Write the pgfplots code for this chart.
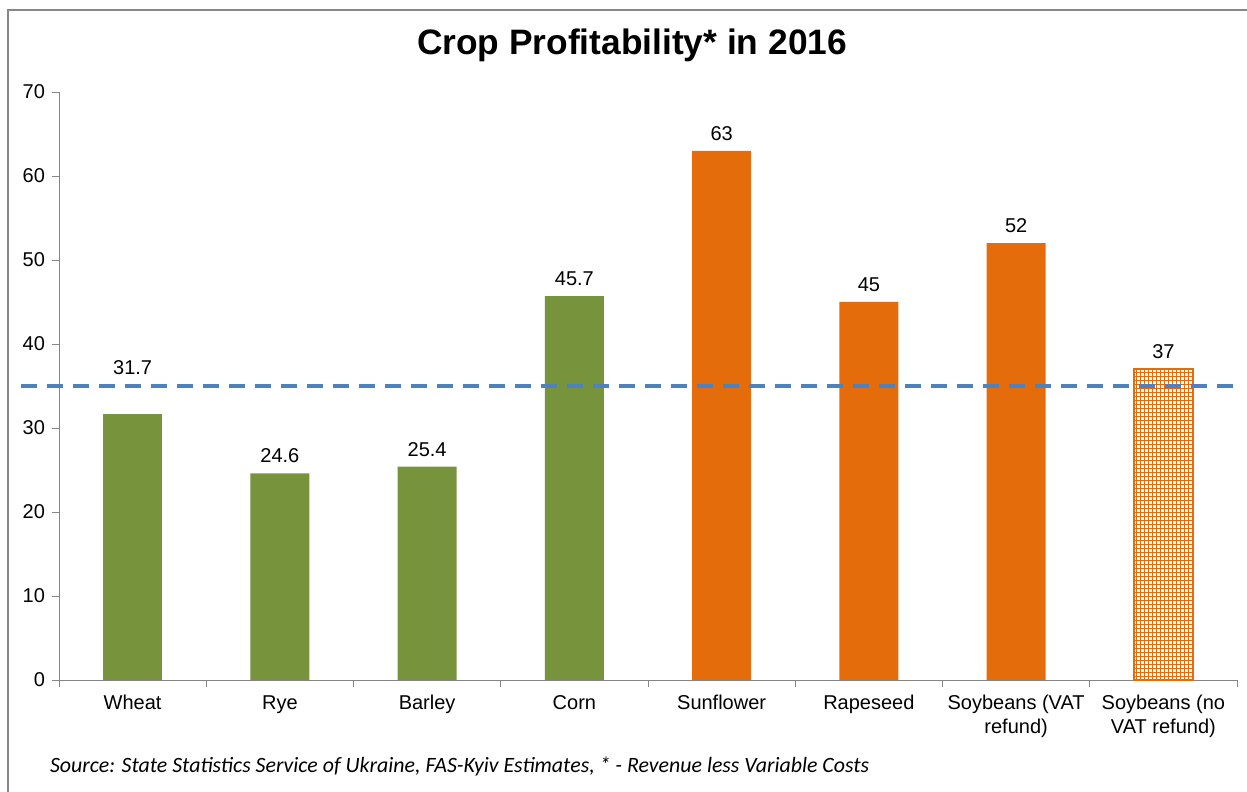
\documentclass[border=0pt]{standalone}
\usepackage{pgfplots}
\pgfplotsset{compat=1.18}
\usepackage{fontspec}
\setmainfont{Liberation Sans}
\newfontfamily\calibri{Carlito}
\usetikzlibrary{patterns}
\definecolor{cgreen}{HTML}{77933C}
\definecolor{corange}{HTML}{E46C0A}
\definecolor{cblue}{HTML}{4F81BD}
\definecolor{cgray}{HTML}{868686}
\begin{document}
\begin{tikzpicture}
\path[use as bounding box] (0,0) rectangle (935.25pt,594pt);
\draw[cgray, line width=1.5pt] (6pt,0) -- (6pt,586.5pt) -- (935.25pt,586.5pt);
\node[font=\bfseries\fontsize{26.5}{30}\selectfont] at (474pt,560pt) {Crop Profitability* in 2016};
\node[anchor=west, font=\calibri\itshape\fontsize{16.4}{19}\selectfont] at (34pt,18.75pt) {Source: State Statistics Service of Ukraine, FAS-Kyiv Estimates, * - Revenue less Variable Costs};
\begin{axis}[
  at={(44.25pt,84pt)}, anchor=south west,
  scale only axis, width=883.5pt, height=441pt,
  xmin=-0.5, xmax=7.5, ymin=0, ymax=70,
  ytick={0,10,...,70},
  xtick={0,...,7},
  xticklabels={Wheat,Rye,Barley,Corn,Sunflower,Rapeseed,{Soybeans (VAT\\refund)},{Soybeans (no\\VAT refund)}},
  minor xtick={-0.5,0.5,...,7.5},
  axis x line*=bottom, axis y line*=left,
  axis line style={cgray},
  tick style={cgray, thin},
  major x tick style={draw=none},
  tick align=outside,
  major tick length=5pt, minor tick length=5pt,
  xticklabel style={align=center, font=\fontsize{15}{17.5}\selectfont, text=black, yshift=-3pt},
  yticklabel style={font=\fontsize{15}{17.5}\selectfont, text=black, xshift=-2pt},
  /pgf/number format/assume math mode=true,
  bar width=44.25pt,
  clip=false,
  point meta=explicit symbolic,
]
\addplot[ybar, bar shift=0pt, fill=cgreen, draw=none,
  nodes near coords, nodes near coords style={font=\fontsize{15}{17.5}\selectfont, anchor=south, inner sep=0pt, yshift=7.5pt, text=black}]
  coordinates {(1,24.6)[24.6] (2,25.4)[25.4] (3,45.7)[45.7]};
\addplot[ybar, bar shift=0pt, fill=cgreen, draw=none,
  nodes near coords, nodes near coords style={font=\fontsize{15}{17.5}\selectfont, anchor=south, inner sep=0pt, yshift=29pt, text=black}]
  coordinates {(0,31.7)[31.7]};
\addplot[ybar, bar shift=0pt, fill=corange, draw=none,
  nodes near coords, nodes near coords style={font=\fontsize{15}{17.5}\selectfont, anchor=south, inner sep=0pt, yshift=7.5pt, text=black}]
  coordinates {(4,63)[63] (5,45)[45] (6,52)[52]};
\addplot[ybar, bar shift=0pt, fill=white, postaction={pattern=grid, pattern color=corange}, draw=corange, line width=1.5pt,
  nodes near coords, nodes near coords style={font=\fontsize{15}{17.5}\selectfont, anchor=south, inner sep=0pt, yshift=7.5pt, text=black}]
  coordinates {(7,37)[37]};
\addplot[sharp plot, cblue, line width=2.3pt, dash pattern=on 12pt off 7.5pt, mark=none]
  coordinates {(-0.76,35) (7.5,35)};
\end{axis}
\end{tikzpicture}
\end{document}
